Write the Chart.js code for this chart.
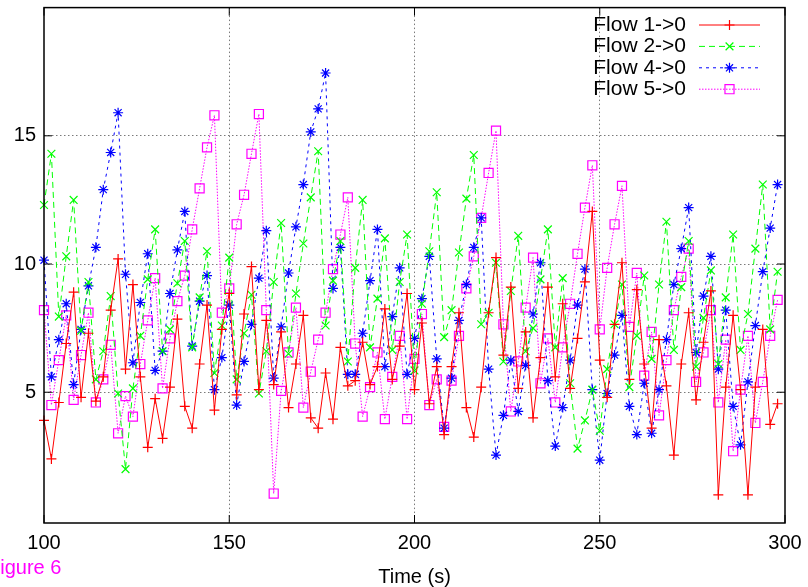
<!DOCTYPE html>
<html lang="en">
<head>
    <meta charset="UTF-8">
    <title>Flows</title>
    <script src="https://cdn.jsdelivr.net/npm/chart.js"></script>
    <style>
        body {
            margin: 0;
            background: white;
            overflow: hidden;
        }
        .wrap {
            position: relative;
            width: 808px;
            height: 587px;
        }
        .fig {
            position: absolute;
            left: -12px;
            top: 557px;
            font-family: "Liberation Sans", Arial, sans-serif;
            font-size: 20px;
            line-height: 1;
            color: #ff00ff;
        }
    </style>
</head>
<body>
    <div class="wrap">
        <canvas id="grafico" width="808" height="587"></canvas>
        <div class="fig">Figure 6</div>
    </div>

    <script>
        const tempos = [
            100, 102, 104, 106, 108, 110, 112, 114, 116, 118,
            120, 122, 124, 126, 128, 130, 132, 134, 136, 138,
            140, 142, 144, 146, 148, 150, 152, 154, 156, 158,
            160, 162, 164, 166, 168, 170, 172, 174, 176, 178,
            180, 182, 184, 186, 188, 190, 192, 194, 196, 198,
            200, 202, 204, 206, 208, 210, 212, 214, 216, 218,
            220, 222, 224, 226, 228, 230, 232, 234, 236, 238,
            240, 242, 244, 246, 248, 250, 252, 254, 256, 258,
            260, 262, 264, 266, 268, 270, 272, 274, 276, 278,
            280, 282, 284, 286, 288, 290, 292, 294, 296, 298
        ];

        const flow1 = [
            3.9, 2.4, 4.6, 6.9, 8.9, 4.8, 7.3, 4.65, 5.6, 8.2,
            10.2, 5.9, 9.2, 5.6, 2.85, 4.75, 3.2, 5.2, 7.85, 4.45,
            3.6, 6.1, 8.4, 4.3, 7.45, 8.85, 4.9, 8.05, 9.9, 5.1,
            7.8, 5.3, 7.35, 4.4, 6.1, 8.0, 4.0, 3.6, 5.75, 3.95,
            6.75, 5.25, 5.45, 6.95, 5.3, 6.0, 8.25, 5.5, 6.8, 8.85,
            5.1, 7.7, 4.55, 6.0, 3.35, 6.0, 8.1, 4.4, 3.25, 5.2,
            8.1, 10.25, 6.45, 9.1, 5.15, 7.35, 4.0, 6.35, 9.1, 5.6,
            8.45, 5.15, 7.1, 9.3, 12.05, 6.25, 4.8, 7.65, 10.05, 5.5,
            9.0, 6.1, 3.6, 7.05, 5.25, 2.55, 6.1, 8.1, 4.7, 6.95,
            8.95, 1.0, 5.2, 8.0, 5.1, 1.0, 5.2, 7.45, 3.75, 4.55
        ];

        const flow2 = [
            12.3, 14.3, 7.95, 10.3, 12.5, 7.4, 9.3, 5.5, 6.6, 8.75,
            4.95, 2.0, 5.15, 7.2, 9.4, 11.35, 6.6, 7.45, 9.25, 10.9,
            6.75, 8.7, 10.5, 5.75, 7.6, 10.25, 5.5, 7.3, 8.8, 4.95,
            6.6, 9.3, 11.6, 6.5, 8.85, 10.8, 12.6, 14.4, 7.6, 9.35,
            10.9, 6.2, 9.85, 12.5, 6.75, 8.65, 11.0, 6.65, 9.3, 11.15,
            5.85, 8.45, 10.5, 12.8, 7.15, 8.2, 10.45, 12.55, 14.25, 7.65,
            8.1, 10.05, 6.2, 8.95, 11.1, 6.6, 7.5, 9.4, 11.35, 6.75,
            9.45, 5.35, 2.8, 3.9, 5.1, 3.5, 5.9, 7.65, 9.2, 5.2,
            7.2, 9.55, 6.3, 9.2, 11.65, 6.65, 9.1, 10.9, 6.0, 7.9,
            9.75, 6.1, 8.7, 11.15, 6.65, 8.05, 10.6, 13.1, 7.45, 9.7
        ];

        const flow4 = [
            10.15, 5.6, 7.05, 8.45, 5.3, 7.45, 9.15, 10.65, 12.9, 14.35,
            15.9, 9.6, 6.15, 8.5, 10.4, 5.85, 6.6, 8.85, 10.55, 12.05,
            6.8, 8.55, 9.55, 5.1, 6.35, 8.4, 4.5, 6.2, 7.65, 9.45,
            11.3, 5.55, 7.55, 9.65, 11.45, 13.1, 15.15, 16.05, 17.45, 9.05,
            10.65, 5.7, 5.7, 7.3, 9.35, 11.35, 6.0, 7.95, 9.85, 5.7,
            7.1, 8.65, 10.3, 6.3, 3.6, 5.55, 7.8, 9.2, 10.65, 11.8,
            5.9, 2.55, 4.1, 6.25, 4.25, 6.05, 8.05, 10.05, 5.45, 2.9,
            4.4, 6.25, 8.4, 9.8, 5.1, 2.35, 4.95, 6.45, 8.0, 4.45,
            3.35, 5.35, 3.4, 5.1, 7.05, 9.2, 10.6, 12.2, 6.55, 8.75,
            10.3, 5.9, 8.2, 4.45, 2.95, 5.4, 7.6, 9.7, 11.4, 13.1
        ];

        const flow5 = [
            8.2, 4.5, 6.25, 8.0, 4.7, 6.45, 8.1, 4.6, 5.5, 6.85,
            3.4, 4.85, 4.05, 6.1, 7.8, 9.45, 5.15, 7.1, 8.55, 9.55,
            11.35, 12.95, 14.55, 15.8, 8.1, 9.05, 11.55, 12.7, 14.3, 15.85,
            8.2, 1.05, 5.05, 6.55, 8.3, 4.4, 5.8, 7.05, 8.1, 9.8,
            11.15, 12.6, 6.9, 4.05, 5.2, 6.55, 3.95, 5.6, 7.2, 3.95,
            6.3, 8.05, 4.5, 5.5, 3.65, 5.45, 7.2, 9.05, 10.3, 11.8,
            13.55, 15.2, 7.65, 4.25, 6.2, 8.3, 10.25, 5.35, 7.1, 4.6,
            6.75, 8.45, 10.4, 12.2, 13.85, 7.45, 9.85, 11.55, 13.05, 7.55,
            9.65, 5.65, 7.35, 4.1, 6.25, 8.2, 9.5, 10.6, 5.4, 6.55,
            8.2, 4.6, 7.05, 2.7, 5.1, 7.2, 3.8, 5.4, 7.2, 8.6
        ];

        const nomes = ["Flow 1->0", "Flow 2->0", "Flow 4->0", "Flow 5->0"];
        const cores = ["#ff0000", "#00ff00", "#0000ff", "#ff00ff"];
        const tracos = [[], [6, 4], [3, 4], [1.5, 1.5]];
        const marcas = ["cross", "crossRot", "star", "rect"];
        const raios = [5, 5.5, 5, 6.4];
        const ticksY = [5, 10, 15];

        const fonte = '"Liberation Sans", Arial, sans-serif';
        Chart.defaults.font.family = fonte;
        Chart.defaults.color = "#000";

        const series = [flow1, flow2, flow4, flow5];
        const datasets = series.map((s, i) => ({
            label: nomes[i],
            data: s.map((v, j) => ({ x: tempos[j], y: v })),
            borderColor: cores[i],
            backgroundColor: "rgba(0,0,0,0)",
            borderWidth: 1,
            borderDash: tracos[i],
            pointStyle: marcas[i],
            pointRadius: raios[i],
            pointBorderColor: cores[i],
            pointBackgroundColor: "rgba(0,0,0,0)",
            pointBorderWidth: 1.2,
            tension: 0,
            clip: false
        }));

        function marca(ctx, tipo, x, y, r) {
            ctx.beginPath();
            if (tipo === "cross" || tipo === "star") {
                ctx.moveTo(x - r, y); ctx.lineTo(x + r, y);
                ctx.moveTo(x, y - r); ctx.lineTo(x, y + r);
            }
            if (tipo === "crossRot" || tipo === "star") {
                const d = r * Math.SQRT1_2;
                ctx.moveTo(x - d, y - d); ctx.lineTo(x + d, y + d);
                ctx.moveTo(x - d, y + d); ctx.lineTo(x + d, y - d);
            }
            if (tipo === "rect") {
                const s = r * Math.SQRT1_2;
                ctx.rect(x - s, y - s, 2 * s, 2 * s);
            }
            ctx.stroke();
        }

        // moldura, ticks para dentro e legenda no estilo do gnuplot
        const moldura = {
            id: "moldura",
            afterDatasetsDraw(chart) {
                const ctx = chart.ctx;
                const a = chart.chartArea;
                const sx = chart.scales.x, sy = chart.scales.y;
                ctx.save();
                ctx.strokeStyle = "#000";
                ctx.lineWidth = 1.5;
                ctx.setLineDash([]);
                ctx.strokeRect(a.left, a.top, a.right - a.left, a.bottom - a.top);
                ctx.lineWidth = 1;
                ctx.beginPath();
                sx.ticks.forEach(t => {
                    const px = sx.getPixelForValue(t.value);
                    ctx.moveTo(px, a.bottom); ctx.lineTo(px, a.bottom - 8);
                    ctx.moveTo(px, a.top); ctx.lineTo(px, a.top + 8);
                });
                sy.ticks.forEach(t => {
                    const py = sy.getPixelForValue(t.value);
                    ctx.moveTo(a.left, py); ctx.lineTo(a.left + 8, py);
                    ctx.moveTo(a.right, py); ctx.lineTo(a.right - 8, py);
                });
                ctx.stroke();

                ctx.font = "21px " + fonte;
                ctx.textAlign = "right";
                ctx.textBaseline = "middle";
                chart.data.datasets.forEach((ds, i) => {
                    const y = 25 + i * 21.4;
                    ctx.fillStyle = "#000";
                    ctx.fillText(ds.label, 686, y);
                    ctx.strokeStyle = ds.borderColor;
                    ctx.lineWidth = 1;
                    ctx.setLineDash(ds.borderDash);
                    ctx.beginPath();
                    ctx.moveTo(699, y); ctx.lineTo(760, y);
                    ctx.stroke();
                    ctx.setLineDash([]);
                    ctx.lineWidth = 1.2;
                    marca(ctx, ds.pointStyle, 729.5, y, ds.pointRadius);
                });
                ctx.restore();
            }
        };

        const grade = {
            color: ctx => {
                const s = ctx.scale;
                const v = ctx.tick ? ctx.tick.value : null;
                return (v === s.min || v === s.max) ? "rgba(0,0,0,0)" : "#7a7a7a";
            },
            lineWidth: 1,
            drawTicks: false
        };

        new Chart(document.getElementById("grafico"), {
            type: "line",
            data: { datasets: datasets },
            options: {
                responsive: false,
                animation: false,
                layout: { padding: { top: 6, right: 23, left: 0, bottom: 0 } },
                plugins: {
                    legend: { display: false },
                    tooltip: { enabled: false }
                },
                scales: {
                    x: {
                        type: "linear",
                        min: 100,
                        max: 300,
                        ticks: { stepSize: 50, padding: 8, font: { size: 20 }, maxRotation: 0 },
                        grid: grade,
                        border: { display: false, dash: [1.5, 2.5] },
                        title: {
                            display: true,
                            text: "Time (s)",
                            font: { size: 20, lineHeight: 1 },
                            padding: 0
                        },
                        afterFit: s => {
                            s.height = 64;
                            s.paddingLeft = 0;
                            s.paddingRight = 0;
                        }
                    },
                    y: {
                        type: "linear",
                        min: -0.1,
                        max: 20,
                        afterBuildTicks: s => { s.ticks = ticksY.map(v => ({ value: v })); },
                        ticks: { padding: 8, font: { size: 20 } },
                        grid: grade,
                        border: { display: false, dash: [1.5, 2.5] },
                        afterFit: s => {
                            s.width = 44;
                            s.paddingTop = 0;
                            s.paddingBottom = 0;
                        }
                    }
                }
            },
            plugins: [moldura]
        });
    </script>
</body>
</html>
